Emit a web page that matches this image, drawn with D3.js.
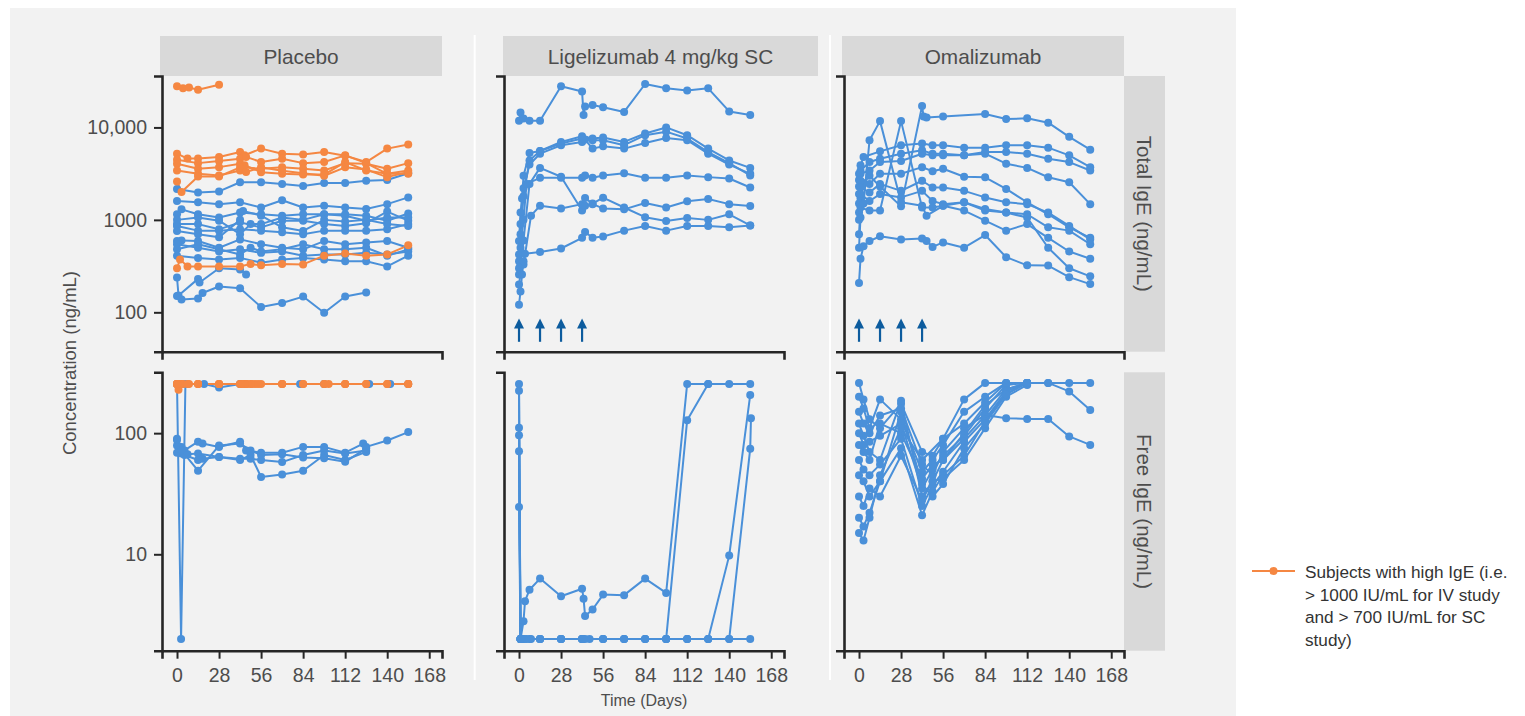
<!DOCTYPE html>
<html><head><meta charset="utf-8">
<script src="https://cdn.jsdelivr.net/npm/d3@7"></script>
<style>body{margin:0;background:#fff;} text{font-family:"Liberation Sans", Arial, Helvetica, sans-serif;}</style>
</head><body><svg id="c" width="1525" height="716"></svg>
<script>
// ---------------- DATA ----------------
const columns = ["Placebo", "Ligelizumab 4 mg/kg SC", "Omalizumab"];
const rowLabels = ["Total IgE (ng/mL)", "Free IgE (ng/mL)"];
const xTicks = [0, 28, 56, 84, 112, 140, 168];
const totalTicks = [100, 1000, 10000];
const totalTickLabels = ["100", "1000", "10,000"];
const freeTicks = [10, 100];
const freeTickLabels = ["10", "100"];
const doseDays = [0, 14, 28, 42];
const arrowRange = [48, 86];
const legendLines = ["Subjects with high IgE (i.e.", "> 1000 IU/mL for IV study", "and > 700 IU/mL for SC", "study)"];

// Placebo, total IgE, high-IgE subjects (orange)
const placeboTotalHigh = [
  [[0,27900],[4,26500],[8,27000],[14,25500],[28,29000]],
  [[0,5200],[7,4600],[14,4600],[28,4780],[42,5420],[45,5000],[56,5900],[70,5200],[84,5100],[98,5420],[112,4950],[126,4220],[140,5900],[154,6520]],
  [[0,4470],[14,4110],[28,4330],[42,4590],[46,4800],[56,4220],[70,4590],[84,4110],[98,4220],[112,4990],[126,4110],[140,3150],[154,3420]],
  [[0,4050],[14,3570],[28,3720],[42,4050],[44,3700],[56,3570],[70,3720],[84,3570],[98,3420],[112,4110],[126,4050],[140,3570],[154,4110]],
  [[0,3420],[14,3150],[28,3020],[42,3420],[45,3900],[56,3280],[70,3150],[84,3090],[98,3090],[112,4220],[126,3420],[140,3150],[154,3150]],
  [[0,2600],[3,2000],[14,2950],[28,2950],[42,3700],[46,3300],[56,3700],[70,3400],[84,3200],[98,3000],[112,3700],[126,3500],[140,2900],[154,3300]],
  [[0,300],[2,373],[7,314],[14,314],[28,314],[42,314],[49,333],[56,322],[70,333],[84,330],[98,410],[112,433],[126,410],[140,423],[154,530]]
];
// Placebo, total IgE, other subjects (blue)
const placeboTotalLow = [
  [[0,2160],[14,1980],[28,2030],[42,2550],[56,2550],[70,2450],[84,2320],[98,2510],[112,2510],[126,2650],[140,2700],[154,3200]],
  [[0,1600],[14,1550],[28,1480],[42,1550],[56,1360],[70,1630],[84,1360],[98,1420],[112,1360],[126,1310],[140,1480],[154,1750]],
  [[0,1150],[3,1300],[14,1150],[28,1060],[42,1200],[56,1150],[70,1110],[84,1150],[98,1150],[112,1150],[126,1110],[140,980],[154,1170]],
  [[0,900],[14,900],[28,790],[42,940],[56,830],[70,980],[84,980],[98,900],[112,860],[126,920],[140,1230],[154,980]],
  [[0,860],[14,765],[28,765],[42,790],[56,765],[70,735],[84,700],[98,765],[112,765],[126,765],[140,790],[154,900]],
  [[0,590],[3,600],[14,590],[28,500],[42,615],[56,545],[70,500],[84,480],[98,590],[112,545],[126,570],[140,590],[154,500]],
  [[0,545],[14,500],[28,455],[42,480],[56,440],[70,455],[84,410],[98,423],[112,423],[126,440],[140,423],[154,455]],
  [[0,410],[14,388],[28,373],[42,388],[56,344],[70,373],[84,388],[98,373],[112,357],[126,357],[140,314],[154,410]],
  [[0,480],[14,545],[28,480],[42,423],[49,500],[56,455],[70,480],[84,545],[98,480],[112,480],[126,500],[140,410],[154,480]],
  [[0,1000],[14,1060],[28,980],[42,700],[49,900],[56,900],[70,1060],[84,1000],[98,1150],[112,1110],[126,980],[140,1060],[154,1060]],
  [[0,760],[14,700],[28,650],[42,1000],[44,1250],[56,1110],[70,830],[84,760],[98,1000],[112,960],[126,1000],[140,900],[154,860]],
  [[0,150],[3,138],[14,141],[17,162],[28,190],[42,182],[56,114],[70,126],[84,148],[98,99],[112,148],[126,164]],
  [[0,238],[1,152],[14,230],[15,210],[28,300],[42,290],[46,256]]
];
// Placebo, free IgE
const placeboFreeHigh = [
  [[0,255],[2,255],[4,255],[8,255],[14,255],[28,255]],
  [[0,255],[1,228],[3,255],[14,255],[28,255],[42,255],[45,255],[56,255],[70,255],[84,255],[98,255],[112,255],[126,255],[140,255],[154,255]],
  [[0,255],[14,255],[28,255],[44,255],[49,255],[70,255],[98,255],[112,255],[140,255],[154,255]],
  [[0,255],[7,255],[42,255],[46,255],[52,255],[84,255],[101,255],[126,255]],
  [[0,255],[43,255],[47,255],[50,255],[54,255],[70,255],[112,255],[154,255]]
];
const placeboFreeLow = [
  [[0,255],[2.7,2],[5.6,255],[18,255],[28,238],[42,255],[82,255],[98,255],[128,255],[142,255],[154,255]],
  [[0,90],[3,77],[5,72],[14,85],[17,82],[28,77],[42,85],[46,72],[56,69],[70,69],[84,77],[98,77],[112,69],[124,82],[126,77],[140,87],[154,102]],
  [[0,79],[3,68],[7,67],[14,68],[28,63.5],[42,61.5],[49,61.5],[56,60],[70,57.7],[84,66],[98,72],[112,68],[126,72]],
  [[0,69],[5,66],[14,60],[17,61.5],[28,63.5],[42,60],[49,66],[56,43.5],[70,45.5],[84,49],[98,66],[112,60],[126,70]],
  [[0,88],[3,72],[14,49],[28,79],[42,82],[49,72],[56,66],[70,67],[84,63],[98,62],[112,58],[126,75]]
];
// Ligelizumab
const ligeTotal = [
  [[0,11800],[1,14500],[3,12500],[7,11800],[14,11800],[28,27900],[42,24500],[43,13600],[44,16800],[49,17500],[56,16500],[70,14700],[84,29500],[98,26500],[112,25100],[126,26500],[140,14900],[154,13600]],
  [[0,423],[1,900],[2,1700],[3,3000],[7,5290],[14,5560],[28,6970],[42,8030],[49,7580],[56,7780],[70,6970],[84,8600],[98,10000],[112,8240],[126,5900],[140,4390],[154,3650]],
  [[0,590],[1,1200],[3,2200],[7,3970],[14,5200],[28,6420],[42,6970],[44,7390],[49,5900],[56,6260],[70,5900],[84,6800],[98,7700],[112,7270],[126,5200],[140,3970],[154,3150]],
  [[0,357],[1,700],[3,1800],[7,4390],[14,5560],[28,6700],[42,7580],[49,7270],[56,7270],[70,6420],[84,8240],[98,9000],[112,7580],[126,5400],[140,4100],[154,3020]],
  [[0,256],[1,330],[3,600],[7,2450],[14,3650],[28,2930],[42,1260],[44,1720],[49,1500],[56,1740],[70,1360],[84,1070],[98,975],[112,1050],[126,1000],[140,1150],[154,870]],
  [[0,200],[1,260],[3,330],[8,1110],[14,1420],[28,1330],[42,1480],[44,1420],[49,1480],[56,1330],[70,1300],[84,1520],[98,1360],[112,1590],[126,1680],[140,1480],[154,1410]],
  [[0,121],[1,168],[2,256],[3,357],[4,430],[14,450],[28,490],[42,640],[44,740],[49,640],[56,660],[70,765],[84,860],[98,765],[112,860],[126,860],[140,830],[154,870]],
  [[0,300],[1,500],[3,1000],[5,2450],[14,2850],[28,2850],[42,2850],[44,3020],[49,2850],[56,3020],[70,3200],[84,2850],[98,2850],[112,3020],[126,2900],[140,2800],[154,2240]]
];
const ligeFree = [
  [[0,111],[1,2],[3,2.8],[4,4.1],[7,5.1],[14,6.3],[28,4.5],[42,5.2],[43,4.3],[44,3.1],[49,3.5],[56,4.65],[70,4.6],[84,6.3],[98,4.8],[112,255],[126,255]],
  [[0,224],[1,2],[3,2],[5,2],[8,2],[14,2],[28,2],[42,2],[44,2],[47,2],[56,2],[70,2],[84,2],[98,2],[112,128],[126,255],[140,255],[154,255]],
  [[0,71],[1,2],[14,2],[28,2],[42,2],[56,2],[70,2],[84,2],[98,2],[112,2],[126,2],[140,9.75],[154,207]],
  [[0,96],[1,2],[14,2],[28,2],[42,2],[56,2],[84,2],[98,2],[112,2],[126,2],[140,2],[154,74.5],[154.5,133]],
  [[0,24.6],[1,2],[3,2],[14,2],[42,2],[70,2],[98,2],[112,2],[126,2],[140,2],[154,2]],
  [[0,255],[1,2],[7,2],[28,2]]
];
// Omalizumab
const omaTotal = [
  [[0,1200],[1,1700],[3,2500],[7,3000],[14,2300],[28,1400],[42,17100],[43,13100],[45,12770],[56,13100],[84,13980],[98,12330],[112,12540],[126,11250],[140,7910],[154,5750]],
  [[0,3150],[1,3900],[3,4780],[14,5510],[28,6420],[42,6690],[49,6420],[56,6420],[70,6040],[84,6040],[98,6420],[112,6420],[126,6040],[140,4990],[154,3720]],
  [[0,2700],[1,3400],[7,4220],[14,4590],[28,5200],[42,5650],[49,5200],[56,5200],[70,4990],[84,5420],[98,5420],[112,5200],[126,4590],[140,4220],[154,3420]],
  [[0,2300],[1,3150],[7,3420],[14,4220],[28,4330],[42,5200],[49,4990],[56,4990],[70,4990],[84,5200],[98,4050],[112,3650],[126,2890],[140,2550],[154,1480]],
  [[0,1900],[1,2650],[7,2450],[14,3150],[28,3150],[42,3720],[49,3360],[56,3570],[70,2930],[84,2890],[98,2160],[112,1550],[126,1150],[140,830],[154,640]],
  [[0,1500],[1,2240],[7,1980],[14,2450],[28,2060],[42,2650],[49,2240],[56,2240],[70,2060],[84,1750],[98,1550],[112,1480],[126,1200],[140,860],[154,615]],
  [[0,1000],[1,1900],[7,1600],[14,1900],[28,1750],[42,2060],[49,1600],[56,1480],[70,1550],[84,1310],[98,1200],[112,1150],[126,830],[140,765],[154,545]],
  [[0,700],[1,1360],[7,1260],[14,1260],[28,11700],[42,1360],[49,1360],[56,1420],[70,1260],[84,980],[98,765],[112,900],[126,640],[140,455],[154,380]],
  [[0,500],[1,1060],[3,1500],[7,7260],[14,11700],[28,1550],[42,1420],[45,1110],[56,1420],[70,1550],[84,1260],[98,1200],[112,1060],[126,500],[140,300],[154,245]],
  [[0,208],[1,380],[3,520],[7,590],[14,665],[28,615],[42,630],[45,590],[49,510],[56,570],[70,500],[84,685],[98,395],[112,322],[126,320],[140,240],[154,202]]
];
const omaFree = [
  [[0,260],[3,190],[7,130],[14,110],[28,175],[42,70],[49,65],[56,90],[70,190],[84,260],[98,260],[112,260],[126,260],[140,260],[154,260]],
  [[0,200],[3,160],[7,110],[14,190],[28,130],[42,48],[49,60],[56,80],[70,150],[84,200],[98,260],[112,260],[126,260],[140,221],[154,155]],
  [[0,150],[3,120],[7,100],[14,140],[28,160],[42,55],[49,45],[56,70],[70,110],[84,141],[98,133],[112,131],[126,131],[140,94],[154,80]],
  [[0,120],[3,95],[7,70],[14,60],[28,185],[42,30],[49,40],[56,60],[70,100],[84,170],[98,230],[112,260]],
  [[0,100],[3,80],[7,85],[14,95],[28,120],[42,35],[49,50],[56,65],[70,95],[84,160],[98,250],[112,260]],
  [[0,80],[3,70],[7,60],[14,120],[28,100],[42,42],[49,55],[56,60],[70,90],[84,140],[98,230],[112,260]],
  [[0,60],[3,50],[7,45],[14,55],[28,90],[42,25],[49,37],[56,48],[70,85],[84,130],[98,220],[112,260]],
  [[0,45],[3,40],[7,30],[14,40],[28,75],[42,21],[49,33],[56,45],[70,65],[84,125],[98,210],[112,260]],
  [[0,30],[3,25],[7,35],[14,30],[28,65],[42,28],[49,40],[56,42],[70,60],[84,110],[98,200],[112,250]],
  [[0,20],[3,17],[7,22],[14,40],[28,150],[42,38],[49,30],[56,38],[70,75],[84,120],[98,210],[112,260]],
  [[0,15],[3,13],[7,20],[14,45],[28,110],[42,60],[56,90],[70,120],[84,180],[98,260],[112,260]]
];

// ---------------- LAYOUT / STYLE ----------------
const BLUE = "#4A90D9", ORANGE = "#F58742", ARROW = "#0D5C9E";
const AXIS = "#262626", TXT = "#4d4d4d";
const colLeft = [162, 504, 844], panelW = 280;
const stripX = [[160, 442], [503, 818], [842, 1124]];
const rowTop = [76, 372.3], rowBot = [351.7, 650.7];
const xDomain = [-10, 176.5];

const svg = d3.select("#c");
svg.append("rect").attr("x", 10).attr("y", 8).attr("width", 1226).attr("height", 708).attr("fill", "#f2f2f2");
[474.7, 830].forEach(x => svg.append("line").attr("x1", x).attr("x2", x).attr("y1", 35).attr("y2", 680)
  .attr("stroke", "#fff").attr("stroke-width", 2));

const yScales = [
  d3.scaleLog().domain([37.5, 36000]).range([rowBot[0], rowTop[0]]),
  d3.scaleLog().domain([1.6, 318]).range([rowBot[1], rowTop[1]])
];

const panelData = [
  [{blue: placeboTotalLow, orange: placeboTotalHigh}, {blue: placeboFreeLow, orange: placeboFreeHigh}],
  [{blue: ligeTotal, orange: []}, {blue: ligeFree, orange: []}],
  [{blue: omaTotal, orange: []}, {blue: omaFree, orange: []}]
];

// strips
columns.forEach((c, i) => {
  svg.append("rect").attr("x", stripX[i][0]).attr("y", 36).attr("width", stripX[i][1] - stripX[i][0]).attr("height", 40).attr("fill", "#d9d9d9");
  svg.append("text").attr("x", (stripX[i][0] + stripX[i][1]) / 2).attr("y", 56.5).attr("dy", "0.35em")
    .attr("text-anchor", "middle").attr("font-size", 20.8).attr("fill", TXT).text(c);
});
rowLabels.forEach((r, j) => {
  svg.append("rect").attr("x", 1124).attr("y", rowTop[j]).attr("width", 41).attr("height", rowBot[j] - rowTop[j]).attr("fill", "#d9d9d9");
  const cy = (rowTop[j] + rowBot[j]) / 2;
  svg.append("text").attr("transform", `translate(1144.5,${cy}) rotate(90)`).attr("dy", "0.35em")
    .attr("text-anchor", "middle").attr("font-size", 20.5).attr("fill", TXT).text(r);
});

for (let c = 0; c < 3; c++) {
  const x = d3.scaleLinear().domain(xDomain).range([colLeft[c], colLeft[c] + panelW]);
  for (let r = 0; r < 2; r++) {
    const y = yScales[r];
    const g = svg.append("g");
    const line = d3.line().x(d => x(d[0])).y(d => y(d[1]));
    const pd = panelData[c][r];
    const groups = [{subs: pd.blue, col: BLUE}, {subs: pd.orange, col: ORANGE}];
    groups.forEach(gr => gr.subs.forEach(s => g.append("path").attr("d", line(s)).attr("fill", "none")
      .attr("stroke", gr.col).attr("stroke-width", 2).attr("stroke-linejoin", "round")));
    groups.forEach(gr => gr.subs.forEach(s => g.selectAll(null).data(s).enter().append("circle")
      .attr("cx", d => x(d[0])).attr("cy", d => y(d[1])).attr("r", 4).attr("fill", gr.col)));

    // dosing arrows
    if (r === 0 && c > 0) {
      doseDays.forEach(dd => {
        const xa = x(dd), y0 = y(arrowRange[0]), y1 = y(arrowRange[1]);
        g.append("line").attr("x1", xa).attr("x2", xa).attr("y1", y0).attr("y2", y1 + 8)
          .attr("stroke", ARROW).attr("stroke-width", 2.2);
        g.append("path").attr("d", `M${xa},${y1} L${xa - 5},${y1 + 10} L${xa + 5},${y1 + 10} Z`).attr("fill", ARROW);
      });
    }

    // axes
    const yAxis = d3.axisLeft(y).tickSizeOuter(0).tickSize(8).tickPadding(7);
    if (c === 0) {
      const tv = r === 0 ? totalTicks : freeTicks, tl = r === 0 ? totalTickLabels : freeTickLabels;
      yAxis.tickValues(tv).tickFormat((d, i) => tl[i]);
    } else yAxis.tickValues([]);
    const ya = svg.append("g").attr("transform", `translate(${colLeft[c]},0)`).call(yAxis);
    const xAxis = d3.axisBottom(x).tickSizeOuter(0).tickSize(8).tickPadding(9);
    if (r === 1) xAxis.tickValues(xTicks).tickFormat(d3.format("d")); else xAxis.tickValues([]);
    const xa = svg.append("g").attr("transform", `translate(0,${rowBot[r]})`).call(xAxis);
    [ya, xa].forEach(a => {
      a.select(".domain").attr("stroke", AXIS).attr("stroke-width", 2.6);
      a.selectAll(".tick line").attr("stroke", AXIS).attr("stroke-width", 2);
      a.selectAll(".tick text").attr("fill", TXT).attr("font-size", 19.5)
        .attr("font-family", "'Liberation Sans', Arial, sans-serif");
    });
  }
}

// axis titles
svg.append("text").attr("transform", "translate(70,363) rotate(-90)").attr("dy", "0.35em").attr("text-anchor", "middle")
  .attr("font-size", 18.5).attr("fill", TXT).text("Concentration (ng/mL)");
svg.append("text").attr("x", 644).attr("y", 700).attr("dy", "0.35em").attr("text-anchor", "middle")
  .attr("font-size", 16).attr("fill", TXT).text("Time (Days)");

// legend
const lg = svg.append("g");
lg.append("line").attr("x1", 1252).attr("x2", 1295).attr("y1", 571).attr("y2", 571).attr("stroke", ORANGE).attr("stroke-width", 2.2);
lg.append("circle").attr("cx", 1273.5).attr("cy", 571).attr("r", 4).attr("fill", ORANGE);
legendLines.forEach((t, i) => lg.append("text").attr("x", 1305).attr("y", 572 + i * 22.5).attr("dy", "0.35em")
  .attr("font-size", 17.2).attr("fill", "#333").text(t));
</script></body></html>
